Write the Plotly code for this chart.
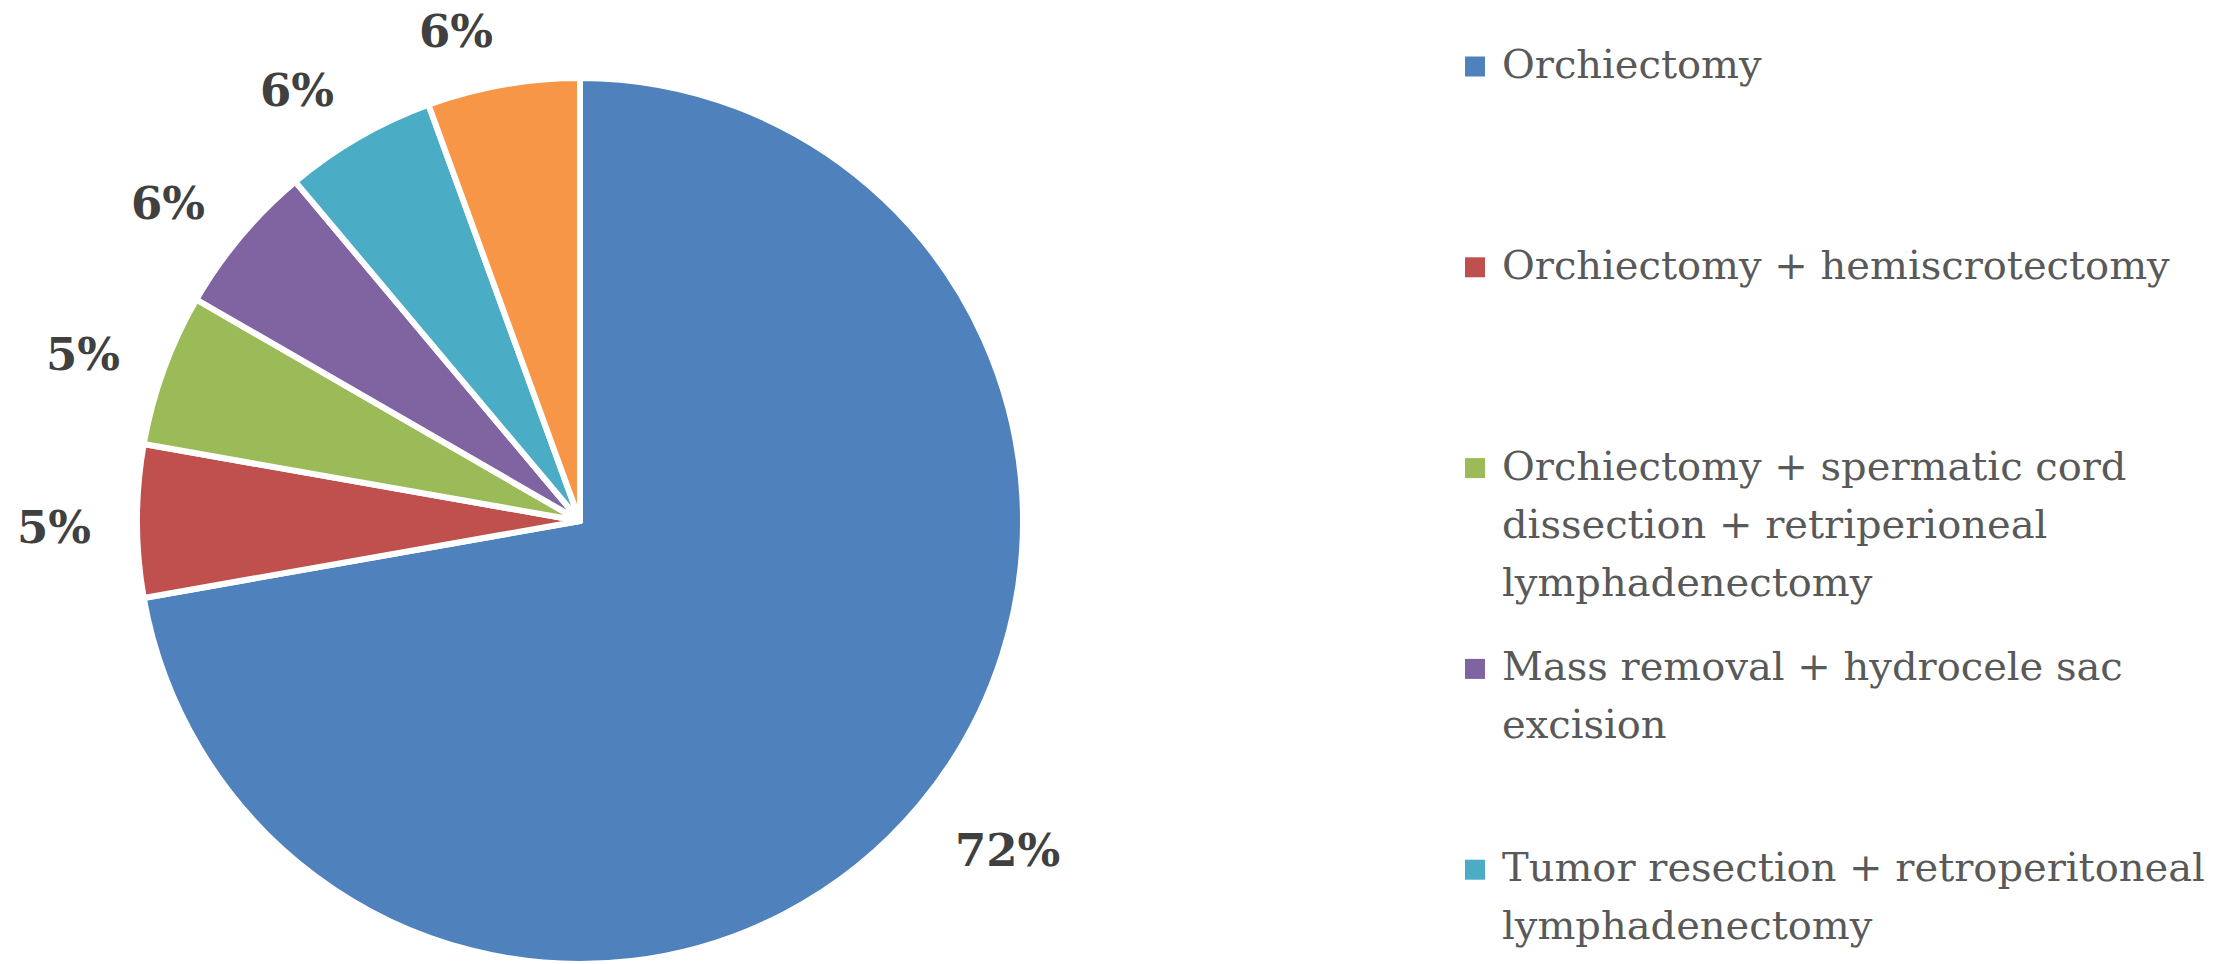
import math
import plotly.graph_objects as go

# ---------------- data ----------------
categories = [
    "Orchiectomy",
    "Orchiectomy + hemiscrotectomy",
    "Orchiectomy + spermatic cord dissection + retriperioneal lymphadenectomy",
    "Mass removal + hydrocele sac excision",
    "Tumor resection + retroperitoneal lymphadenectomy",
    "Other",
]
legend_lines = [
    ["Orchiectomy"],
    ["Orchiectomy + hemiscrotectomy"],
    ["Orchiectomy + spermatic cord", "dissection + retriperioneal", "lymphadenectomy"],
    ["Mass removal + hydrocele sac", "excision"],
    ["Tumor resection + retroperitoneal", "lymphadenectomy"],
    ["Other"],
]
counts = [13, 1, 1, 1, 1, 1]
pct_labels = ["72%", "5%", "5%", "6%", "6%", "6%"]
colors = ["#4F81BD", "#C0504D", "#9BBB59", "#8064A2", "#4BACC6", "#F79646"]

# ---------------- layout constants ----------------
W, H = 2240, 964
CX, CY, R = 580, 521, 443          # pie centre / radius in pixels
LABEL_GAP = 44                      # distance of data labels beyond the rim
LABEL_HALF_H = 16.5
LABEL_DY = 6
LEG_X_MARK, LEG_X_TEXT = 1465, 1500
LEG_Y0, LEG_STEP, LEG_LINE = 64, 200.8, 58

def px(x):
    return x / W

def py(y):
    return 1 - y / H

fig = go.Figure()
fig.add_trace(go.Pie(
    labels=categories,
    values=counts,
    sort=False,
    direction="clockwise",
    rotation=0,
    marker=dict(colors=colors, line=dict(color="white", width=6)),
    textinfo="none",
    hoverinfo="label+percent",
    showlegend=False,
    domain=dict(x=[px(CX - R), px(CX + R)], y=[max(0, py(CY + R)), py(CY - R)]),
))

annotations = []
shapes = []

# data labels, placed just outside each slice's mid-angle
total = sum(counts)
cum = 0
for v, lab in zip(counts, pct_labels):
    theta = math.radians(360.0 * (cum + v / 2) / total)
    cum += v
    ux, uy = math.sin(theta), -math.cos(theta)   # screen direction (y down)
    ax = CX + (R + LABEL_GAP) * ux
    ay = CY + (R + LABEL_GAP) * uy + LABEL_HALF_H * uy + LABEL_DY
    annotations.append(dict(
        x=px(ax), y=py(ay), xref="paper", yref="paper",
        text=lab, showarrow=False,
        xanchor="right" if ux < 0 else "left", yanchor="middle",
        font=dict(family="DejaVu Serif", size=45, color="#404040", weight="bold"),
    ))

# legend (only the entries that fit on the canvas)
for i, (lines, col) in enumerate(zip(legend_lines, colors)):
    y0 = LEG_Y0 + i * LEG_STEP
    if y0 > H:
        continue
    shapes.append(dict(
        type="rect", xref="paper", yref="paper",
        x0=px(LEG_X_MARK), x1=px(LEG_X_MARK + 20),
        y0=py(y0 + 2.5 + 10), y1=py(y0 + 2.5 - 10),
        fillcolor=col, line=dict(width=0),
    ))
    for k, line in enumerate(lines):
        annotations.append(dict(
            x=px(LEG_X_TEXT), y=py(y0 + k * LEG_LINE), xref="paper", yref="paper",
            text=line, showarrow=False, xanchor="left", yanchor="middle",
            font=dict(family="DejaVu Serif", size=40, color="#595959"),
        ))

fig.update_layout(
    width=W, height=H,
    margin=dict(l=0, r=0, t=0, b=0),
    paper_bgcolor="white",
    plot_bgcolor="white",
    showlegend=False,
    annotations=annotations,
    shapes=shapes,
)

fig.write_html(
    "out.html",
    config={"displayModeBar": False},
    post_script="document.body.style.margin='0px';",
)
